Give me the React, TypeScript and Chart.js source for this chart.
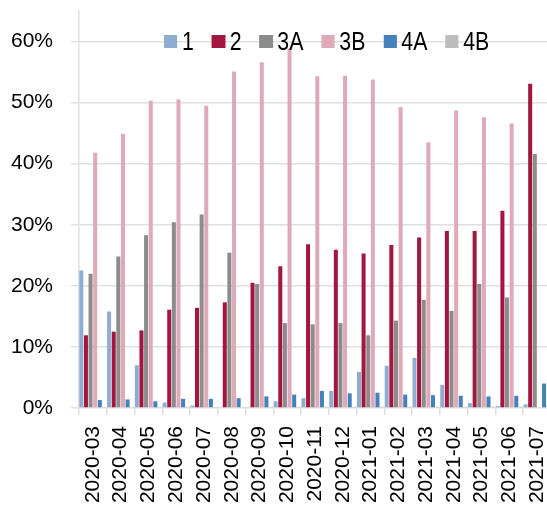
import React, { useEffect, useRef } from "react";
import { Chart, registerables } from "chart.js";

Chart.register(...registerables);

const categories = [
  "2020-03", "2020-04", "2020-05", "2020-06", "2020-07", "2020-08", "2020-09",
  "2020-10", "2020-11", "2020-12", "2021-01", "2021-02", "2021-03", "2021-04",
  "2021-05", "2021-06", "2021-07",
];
const series1 = [22.5, 15.8, 7.0, 0.9, 0.4, 0, 0, 1.1, 1.6, 2.8, 5.9, 6.9, 8.2, 3.8, 0.8, 0.3, 0.6];
const series2 = [11.9, 12.5, 12.7, 16.1, 16.4, 17.3, 20.5, 23.2, 26.8, 25.9, 25.3, 26.7, 27.9, 29.0, 29.0, 32.3, 53.1];
const series3A = [22.0, 24.8, 28.3, 30.4, 31.7, 25.4, 20.3, 13.9, 13.7, 13.9, 11.9, 14.3, 17.7, 15.9, 20.3, 18.1, 41.6];
const series3B = [41.8, 44.9, 50.3, 50.5, 49.5, 55.1, 56.6, 58.9, 54.3, 54.4, 53.8, 49.3, 43.5, 48.7, 47.6, 46.6, 0];
const series4A = [1.3, 1.4, 1.1, 1.5, 1.5, 1.6, 1.9, 2.2, 2.8, 2.4, 2.5, 2.2, 2.1, 2.0, 1.9, 2.0, 4.0];
const series4B = [0.1, 0.1, 0.1, 0.2, 0.1, 0.1, 0.2, 0.2, 0.2, 0.2, 0.2, 0.2, 0.2, 0.2, 0.2, 0.2, 0.4];

const seriesNames = ["1", "2", "3A", "3B", "4A", "4B"];
const seriesColors = ["#8eadd1", "#a31640", "#8c8c8c", "#dfa9b8", "#4581bb", "#bcbcbc"];
const yTicks = [0, 10, 20, 30, 40, 50, 60];
const yMax = 65;

const FONT = "'Liberation Sans', Arial, sans-serif";
const GRID = "#e0e0e0";
const NARROW = 0.82;

export default function App() {
  const ref = useRef<HTMLCanvasElement | null>(null);

  useEffect(() => {
    if (!ref.current) return;
    const all = [series1, series2, series3A, series3B, series4A, series4B];
    const chart = new Chart(ref.current, {
      type: "bar",
      data: {
        labels: categories,
        datasets: all.map((d, i) => ({
          label: seriesNames[i],
          data: d,
          backgroundColor: seriesColors[i],
          borderWidth: 0,
          categoryPercentage: 1,
          barPercentage: 0.87,
        })),
      },
      options: {
        responsive: false,
        animation: false,
        devicePixelRatio: 1,
        layout: { padding: { top: 11, left: 0, right: 0, bottom: 0 } },
        plugins: { legend: { display: false }, tooltip: { enabled: false } },
        scales: {
          x: {
            offset: true,
            grid: {
              offset: true,
              drawOnChartArea: false,
              drawTicks: true,
              tickLength: 7,
              color: GRID,
              lineWidth: 1.5,
            },
            border: { display: false },
            ticks: {
              autoSkip: false,
              maxRotation: 90,
              minRotation: 90,
              padding: 11,
              color: "#000",
              font: { family: FONT, size: 21 },
            },
            afterFit: (s: any) => {
              s.height = 98;
              s.paddingLeft = 0;
              s.paddingRight = 0;
            },
          },
          y: {
            min: 0,
            max: yMax,
            afterBuildTicks: (s: any) => {
              s.ticks = yTicks.map((v) => ({ value: v }));
            },
            grid: {
              color: GRID,
              lineWidth: 1.5,
              drawTicks: true,
              tickLength: 8,
            },
            border: { display: true, color: GRID, width: 1.5 },
            ticks: {
              padding: 18,
              color: "#000",
              font: { family: FONT, size: 21 },
              callback: (v: any) => `${v}%`,
            },
            afterFit: (s: any) => {
              s.width = 79;
              s.paddingTop = 0;
              s.paddingBottom = 0;
            },
          },
        },
      },
    });
    return () => chart.destroy();
  }, []);

  const legendItem = (name: string, color: string) => (
    <div key={name} style={{ display: "flex", alignItems: "center", marginRight: 18 / NARROW }}>
      <div style={{ width: 13.4 / NARROW, height: 13, background: color, marginRight: 4.5 / NARROW }} />
      <span>{name}</span>
    </div>
  );

  return (
    <div
      style={{
        position: "fixed",
        left: 0,
        top: 0,
        width: 547,
        height: 506,
        overflow: "hidden",
        background: "#fff",
      }}
    >
      <canvas ref={ref} width={551} height={506} style={{ display: "block" }} />
      <div
        style={{
          position: "absolute",
          left: 164,
          top: 28,
          display: "flex",
          alignItems: "center",
          fontFamily: FONT,
          fontSize: 26,
          lineHeight: "26px",
          color: "#000",
          height: 26,
          transform: `scaleX(${NARROW})`,
          transformOrigin: "left center",
          whiteSpace: "nowrap",
        }}
      >
        {seriesNames.map((n, i) => legendItem(n, seriesColors[i]))}
      </div>
    </div>
  );
}
